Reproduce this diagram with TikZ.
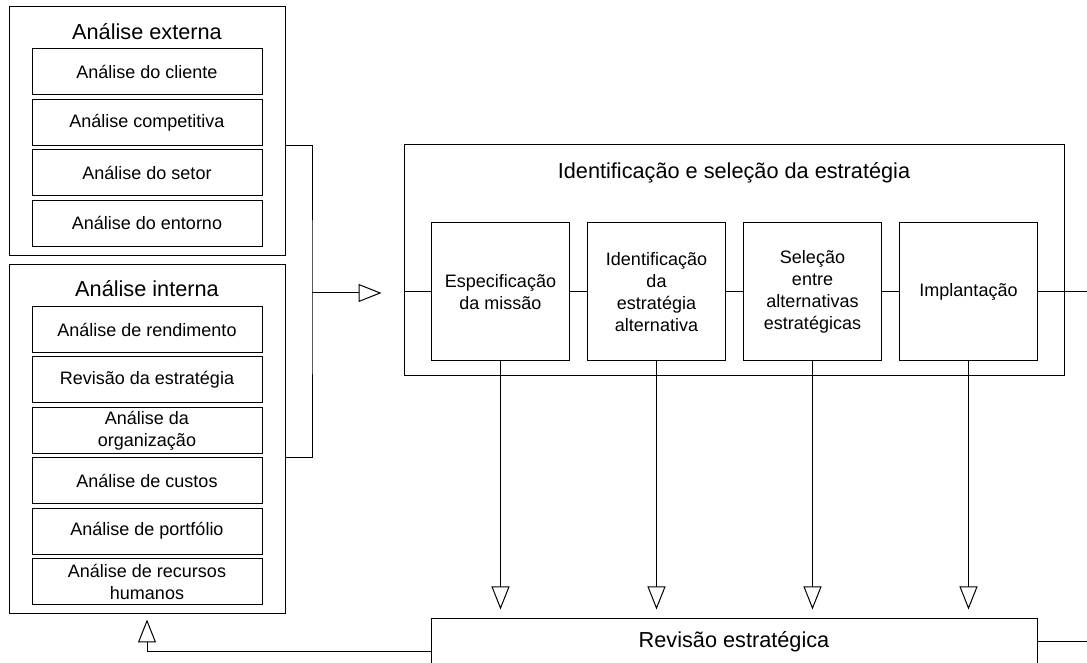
\documentclass[tikz,border=0pt]{standalone}
\usepackage{fontspec}
\setmainfont{Liberation Sans}
\usetikzlibrary{arrows.meta, positioning}
\tikzstyle{group} = [rectangle, draw, line width=1pt, minimum width=276pt]
\tikzstyle{heading} = [font=\fontsize{21.7}{26}\selectfont]
\tikzstyle{box} = [rectangle, draw, line width=1pt, minimum width=230pt, minimum height=46pt, inner sep=0pt, align=center, font=\fontsize{18}{22}\selectfont]
\tikzstyle{stage} = [box, minimum width=138pt, minimum height=138pt]
\tikzstyle{line} = [draw, line width=1pt]
\tikzstyle{arrow} = [line, -{Triangle[open, length=23pt, width=18pt]}]

\begin{document}
\begin{tikzpicture}[x=1pt, y=1pt, node distance=50.4pt]
    \useasboundingbox (0,0) rectangle (1087,663);
    % Place nodes
    \node [group, minimum height=249pt] (ext) at (147,531.5) {};
    \node [heading] (exttitle) at (147,631) {Análise externa};
    \node [box] (ext1) at (147,591) {Análise do cliente};
    \node [box, below of=ext1] (ext2) {Análise competitiva};
    \node [box, below of=ext2] (ext3) {Análise do setor};
    \node [box, below of=ext3] (ext4) {Análise do entorno};
    \node [group, minimum height=349pt] (int) at (147,223.5) {};
    \node [heading] (inttitle) at (147,374) {Análise interna};
    \node [box] (int1) at (147,333.5) {Análise de rendimento};
    \node [box, below of=int1] (int2) {Revisão da estratégia};
    \node [box, below of=int2] (int3) {Análise da\\organização};
    \node [box, below of=int3] (int4) {Análise de custos};
    \node [box, below of=int4] (int5) {Análise de portfólio};
    \node [box, below of=int5] (int6) {Análise de recursos\\humanos};
    \node [group, minimum width=660pt, minimum height=231pt] (strat) at (734,402.5) {};
    \node [heading] (strattitle) at (734,490) {Identificação e seleção da estratégia};
    \node [stage] (spec) at (500.5,371) {Especificação\\da missão};
    \node [stage, right of=spec, node distance=156pt] (ident) {Identificação\\da\\estratégia\\alternativa};
    \node [stage, right of=ident, node distance=156pt] (selec) {Seleção\\entre\\alternativas\\estratégicas};
    \node [stage, right of=selec, node distance=156pt] (impl) {Implantação};
    \node [box, heading, minimum width=606pt] (rev) at (734,21) {Revisão estratégica};
    \coordinate (brk) at (312,370);
    \coordinate (chainout) at (1090,371);
    \coordinate (revout) at (1090,21);
    % Draw edges
    \path [line] (ext.east |- ext2.south) -| (brk) |- (int.east |- int4.north);
    \path [arrow, shorten >=22pt] (brk) -- (strat.west |- brk);
    \path [line] (strat.west |- spec) -- (spec);
    \path [line] (spec) -- (ident);
    \path [line] (ident) -- (selec);
    \path [line] (selec) -- (impl);
    \path [line] (impl) -- (chainout);
    \path [arrow, shorten >=9pt] (spec) -- (spec |- rev.north);
    \path [arrow, shorten >=9pt] (ident) -- (ident |- rev.north);
    \path [arrow, shorten >=9pt] (selec) -- (selec |- rev.north);
    \path [arrow, shorten >=9pt] (impl) -- (impl |- rev.north);
    \path [line] (rev) -- (revout);
    \path [arrow, shorten >=5pt] ([yshift=-10pt]rev.west) -| (int.south);
\end{tikzpicture}
\end{document}
